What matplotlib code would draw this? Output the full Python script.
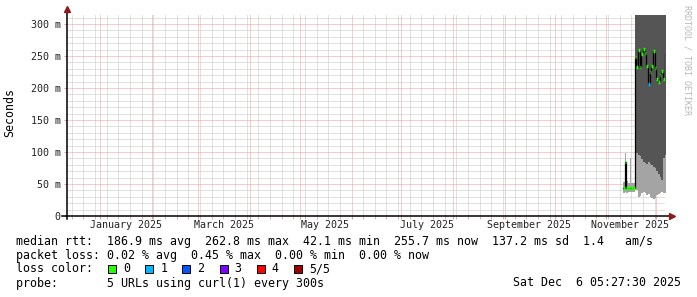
import numpy as np
import pandas as pd
import matplotlib
matplotlib.use('Agg')
import matplotlib.pyplot as plt
import matplotlib.dates as mdates
import matplotlib.ticker as mticker
from matplotlib.patches import Rectangle

# Datos (ms)
fechas = pd.date_range('2025-11-11', '2025-12-06', freq='D')
mediana = [43, 84, 43, 43, 43, 43, 43,
           248, 232, 259, 233, 253, 261, 255, 234, 206, 225, 234, 258,
           231, 214, 210, 220, 227, 214, 255]
perdida = [0, 0, 0, 0, 0, 0, 0,
           0, 0, 0, 0, 0, 0, 0, 0, 1, 0, 0, 0,
           0, 0, 0, 0, 0, 0, 0]
# humo claro (min .. limite inferior del humo oscuro)
humo_min = [36, 37, 36, 38, 37, 38, 38,
            44, 40, 30, 32, 36, 38, 36, 33, 35, 30, 28, 27,
            28, 33, 34, 36, 37, 36, 36]
humo_mid = [53, 98, 55, 52, 90, 52, 52,
            100, 98, 95, 93, 89, 85, 83, 82, 85, 81, 80, 77,
            75, 70, 65, 61, 56, 91, 95]
# humo oscuro, solo desde el 18 de noviembre
humo_max = [480, 480, 480, 480, 480, 480, 480, 480, 480, 480,
            480, 480, 480, 480, 480, 480, 480, 480, 480]
inicio_oscuro = 7

inicio = pd.Timestamp('2024-12-12 04:00')
fin = pd.Timestamp('2025-12-06 05:27:30')

etiquetas_x = ['January 2025', 'March 2025', 'May 2025', 'July 2025',
               'September 2025', 'November 2025']
fechas_etiquetas = pd.to_datetime(['2025-01-16 12:00', '2025-03-16 12:00', '2025-05-16 00:00',
                                   '2025-07-16 12:00', '2025-09-15 12:00', '2025-11-15 12:00'])

colores_perdida = ['#26ff00', '#00b8ff', '#0059ff', '#7e00ff', '#ff0000', '#a10000']
nombres_perdida = ['0', '1', '2', '3', '4', '5/5']

W, H = 697, 297
mono = 'DejaVu Sans Mono'

fig = plt.figure(figsize=(W / 100, H / 100), dpi=100)
fig.patch.set_facecolor('white')
ax = fig.add_axes([67 / W, 1 - 216 / H, (665 - 67) / W, (216 - 15) / H])
ax.set_facecolor('white')

# pasos de un dia
dia = pd.Timedelta(days=1)
x_ext = list(fechas) + [fechas[-1] + dia]
def ext(v):
    return np.append(np.array(v, dtype=float), v[-1])

ax.fill_between(x_ext, ext(humo_min), ext(humo_mid), step='post',
                color='#a4a4a4', lw=0, zorder=2)
ax.fill_between(x_ext[inicio_oscuro:], ext(humo_mid[inicio_oscuro:]), ext(humo_max),
                step='post', color='#555555', lw=0, zorder=2)

ax.step(x_ext, ext(mediana), where='post', color='black', lw=0.9, zorder=3)
ax.hlines(mediana, fechas, fechas + dia, colors=[colores_perdida[p] for p in perdida],
          lw=2.4, zorder=4)

ax.set_xlim(inicio, fin)
ax.set_ylim(0, 314)

# rejilla
ax.xaxis.set_major_locator(mdates.MonthLocator())
ax.xaxis.set_minor_locator(mdates.WeekdayLocator(byweekday=mdates.SU))
ax.yaxis.set_major_locator(mticker.MultipleLocator(50))
ax.yaxis.set_minor_locator(mticker.MultipleLocator(10))
ax.grid(which='minor', color='#c4c4c4', ls=(0, (1, 1)), lw=0.72, zorder=0)
ax.grid(which='major', color='#f09a9a', ls=(0, (1, 1)), lw=0.72, zorder=1)
ax.set_axisbelow(True)

ax.yaxis.set_major_formatter(mticker.FuncFormatter(
    lambda v, p: '0' if v == 0 else '%d m' % v))
ax.tick_params(axis='x', which='both', labelbottom=False, length=2, color='#e0a0a0')
ax.tick_params(axis='y', which='major', length=2, color='#e0a0a0', pad=2.5,
               labelsize=7.2, labelcolor='#222222')
ax.tick_params(axis='y', which='minor', length=0)
for lab in ax.get_yticklabels():
    lab.set_family(mono)
for s in ax.spines.values():
    s.set_visible(False)

# ejes con flechas
ax.plot([-0.008, 1.006], [0, 0], transform=ax.transAxes, color='black', lw=1.1,
        clip_on=False, zorder=5)
ax.plot([0, 0], [-0.015, 1.01], transform=ax.transAxes, color='black', lw=1.1,
        clip_on=False, zorder=5)
ax.plot([1.012], [0], marker='>', ms=4.5, color='#8b1a1a', transform=ax.transAxes,
        clip_on=False, zorder=6)
ax.plot([0], [1.03], marker='^', ms=4.5, color='#8b1a1a', transform=ax.transAxes,
        clip_on=False, zorder=6)

for f, t in zip(fechas_etiquetas, etiquetas_x):
    ax.text(f, -0.045, t, transform=ax.get_xaxis_transform(), ha='center', va='center',
            family=mono, fontsize=7.2, color='#222222')

fig.text(10 / W, 1 - 113 / H, 'Seconds', rotation=90, ha='center', va='center',
         family=mono, fontsize=8.4)
fig.text(687 / W, 1 - 60 / H, 'RRDTOOL / TOBI OETIKER', rotation=270, ha='center',
         va='center', family=mono, fontsize=6, color='#b8b8b8')

# leyenda
def texto(x, y, s, **kw):
    fig.text(x / W, 1 - y / H, s, family=mono, fontsize=8.4, va='center', **kw)

texto(16, 241, 'median rtt:  186.9 ms avg  262.8 ms max  42.1 ms min  '
               '255.7 ms now  137.2 ms sd  1.4   am/s')
texto(16, 255, 'packet loss: 0.02 % avg  0.45 % max  0.00 % min  0.00 % now')
texto(16, 269, 'loss color:')
for i, (c, n) in enumerate(zip(colores_perdida, nombres_perdida)):
    bx = 108 + i * 37.2
    fig.patches.append(Rectangle((bx / W, 1 - 273 / H), 8 / W, 8 / H, transform=fig.transFigure,
                                 facecolor=c, edgecolor='black', lw=0.7))
    texto(bx + 15, 269, n)
texto(16, 283, 'probe:       5 URLs using curl(1) every 300s')
texto(681, 283, 'Sat Dec  6 05:27:30 2025', ha='right')

fig.savefig('out.png', dpi=100)
